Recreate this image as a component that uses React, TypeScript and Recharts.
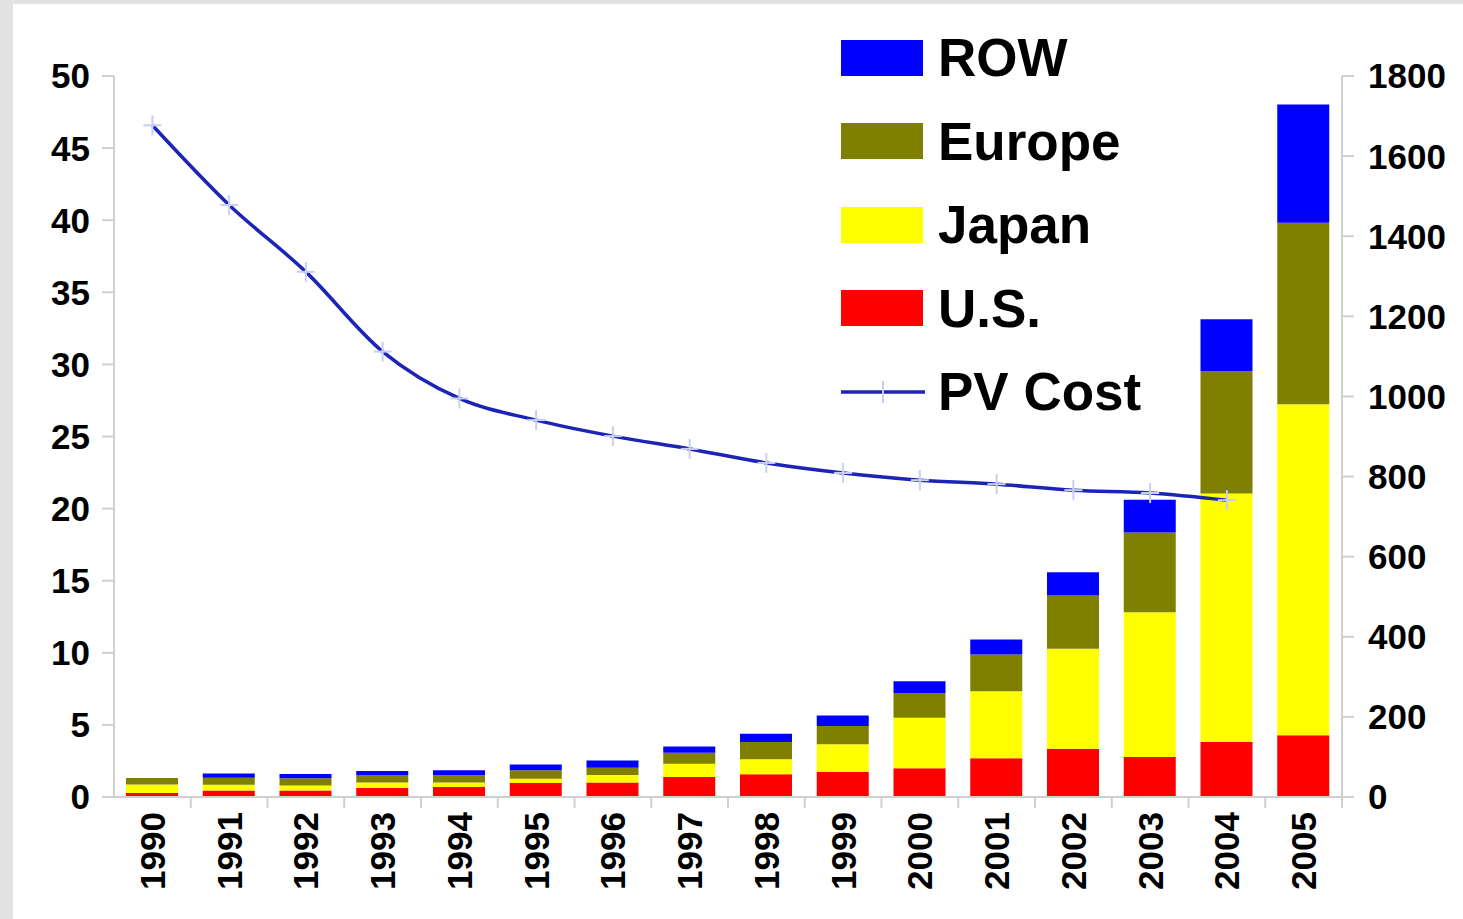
import React from "react";
import {
  ComposedChart,
  Bar,
  Line,
  XAxis,
  YAxis,
} from "recharts";

const years = [
  "1990", "1991", "1992", "1993", "1994", "1995", "1996", "1997",
  "1998", "1999", "2000", "2001", "2002", "2003", "2004", "2005",
];
const usValues = [0.28, 0.45, 0.45, 0.65, 0.7, 0.97, 1.0, 1.38, 1.57, 1.75, 1.99, 2.68, 3.35, 2.77, 3.81, 4.28];
const japanValues = [0.58, 0.4, 0.35, 0.35, 0.3, 0.3, 0.53, 0.92, 1.04, 1.9, 3.5, 4.66, 6.93, 10.04, 17.24, 22.95];
const europeValues = [0.46, 0.48, 0.5, 0.53, 0.5, 0.58, 0.5, 0.76, 1.2, 1.27, 1.73, 2.54, 3.69, 5.54, 8.5, 12.6];
const rowValues = [0, 0.3, 0.3, 0.28, 0.35, 0.4, 0.5, 0.45, 0.58, 0.74, 0.81, 1.04, 1.61, 2.26, 3.58, 8.2];
const pvCost: (number | null)[] = [1677, 1478, 1311, 1112, 995, 941, 901, 869, 834, 809, 791, 781, 766, 759, 741, null];

const leftTicks = [0, 5, 10, 15, 20, 25, 30, 35, 40, 45, 50];
const rightTicks = [0, 200, 400, 600, 800, 1000, 1200, 1400, 1600, 1800];

const data = years.map((year, i) => ({
  year,
  us: usValues[i],
  japan: japanValues[i],
  europe: europeValues[i],
  row: rowValues[i],
  cost: pvCost[i],
}));

const FONT = '"Liberation Sans", Arial, sans-serif';
const AXIS_GREY = "#cfcfcf";
const LINE_BLUE = "#1c24b8";

const legendItems = [
  { label: "ROW", color: "#0000ff" },
  { label: "Europe", color: "#808000" },
  { label: "Japan", color: "#ffff00" },
  { label: "U.S.", color: "#ff0000" },
];

// year labels rotated, with tick marks on the category boundaries
function YearTick(props: any) {
  const { x, y, payload } = props;
  const half = payload?.offset ?? 38.4;
  return (
    <g>
      <line x1={x + half} y1={797} x2={x + half} y2={808} stroke={AXIS_GREY} strokeWidth={2} />
      <text
        x={x}
        y={y}
        transform={`rotate(-90, ${x}, ${y})`}
        textAnchor="end"
        dy="0.36em"
        fontSize={35}
        fontWeight="bold"
        fontFamily={FONT}
        fill="#000"
      >
        {payload.value}
      </text>
    </g>
  );
}

function CrossDot(props: any) {
  const { cx, cy, index } = props;
  if (cy == null || cx == null) return <g key={index} />;
  return (
    <g key={index}>
      <line x1={cx - 9} y1={cy} x2={cx + 9} y2={cy} stroke="#c9cff2" strokeWidth={2} />
      <line x1={cx} y1={cy - 10} x2={cx} y2={cy + 10} stroke="#c9cff2" strokeWidth={2} />
    </g>
  );
}

export default function App() {
  const tickStyle = { fontSize: 35, fontWeight: "bold", fill: "#000", fontFamily: FONT };
  return (
    <div style={{ position: "absolute", left: 0, top: 0, width: 1463, height: 919, background: "#e2e2e2" }}>
      <div style={{ position: "absolute", left: 13, top: 4, right: 0, bottom: 0, background: "#fff" }} />
      <div style={{ position: "absolute", left: 0, top: 0 }}>
        <ComposedChart
          width={1463}
          height={919}
          data={data}
          margin={{ top: 76, right: 0, bottom: 0, left: 0 }}
          barSize={52}
        >
          <XAxis
            dataKey="year"
            height={122}
            axisLine={{ stroke: AXIS_GREY, strokeWidth: 2 }}
            tickLine={false}
            tickSize={8}
            tickMargin={7}
            interval={0}
            tick={<YearTick />}
          />
          <YAxis
            yAxisId="left"
            width={114}
            domain={[0, 50]}
            ticks={leftTicks}
            interval={0}
            axisLine={{ stroke: AXIS_GREY, strokeWidth: 2 }}
            tickLine={{ stroke: AXIS_GREY, strokeWidth: 2 }}
            tickSize={12}
            tickMargin={12}
            tick={tickStyle}
          />
          <YAxis
            yAxisId="right"
            orientation="right"
            width={121}
            domain={[0, 1800]}
            ticks={rightTicks}
            interval={0}
            axisLine={{ stroke: AXIS_GREY, strokeWidth: 2 }}
            tickLine={{ stroke: AXIS_GREY, strokeWidth: 2 }}
            tickSize={12}
            tickMargin={14}
            tick={tickStyle}
          />
          <Bar yAxisId="left" dataKey="us" stackId="a" fill="#ff0000" isAnimationActive={false} />
          <Bar yAxisId="left" dataKey="japan" stackId="a" fill="#ffff00" isAnimationActive={false} />
          <Bar yAxisId="left" dataKey="europe" stackId="a" fill="#808000" isAnimationActive={false} />
          <Bar yAxisId="left" dataKey="row" stackId="a" fill="#0000ff" isAnimationActive={false} />
          <Line
            yAxisId="right"
            dataKey="cost"
            type="monotone"
            stroke={LINE_BLUE}
            strokeWidth={3.5}
            dot={<CrossDot />}
            activeDot={false}
            connectNulls={false}
            isAnimationActive={false}
          />
        </ComposedChart>
      </div>
      {/* Legend */}
      <div style={{ position: "absolute", left: 841, top: 16, fontFamily: FONT }}>
        {legendItems.map((item) => (
          <div key={item.label} style={{ display: "flex", alignItems: "center", height: 83.5 }}>
            <span
              style={{
                display: "inline-block",
                width: 82,
                height: 36,
                background: item.color,
                boxSizing: "border-box",
              }}
            />
            <span style={{ marginLeft: 15, fontSize: 53, fontWeight: "bold", color: "#000", lineHeight: 1 }}>
              {item.label}
            </span>
          </div>
        ))}
        <div style={{ display: "flex", alignItems: "center", height: 83.5 }}>
          <svg width={84} height={36} style={{ display: "block" }}>
            <line x1={0} y1={18} x2={84} y2={18} stroke={LINE_BLUE} strokeWidth={3.5} />
            <line x1={42} y1={7} x2={42} y2={29} stroke="#c9cff2" strokeWidth={2} />
          </svg>
          <span style={{ marginLeft: 13, fontSize: 53, fontWeight: "bold", color: "#000", lineHeight: 1 }}>
            PV Cost
          </span>
        </div>
      </div>
    </div>
  );
}
